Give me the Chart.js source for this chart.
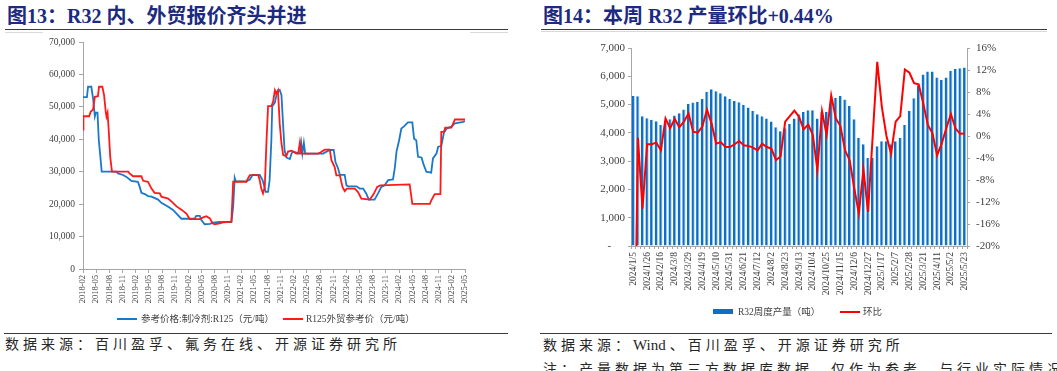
<!DOCTYPE html>
<html lang="zh-CN">
<head>
<meta charset="utf-8">
<title>R32 报价与产量</title>
<script src="https://cdn.jsdelivr.net/npm/chart.js@4.4.1/dist/chart.umd.min.js"></script>
<style>
  html, body { margin: 0; padding: 0; background: #fff; }
  body { width: 1057px; height: 371px; position: relative; overflow: hidden;
         font-family: "Liberation Serif", "Noto Sans CJK SC", serif; }
  .title { position: absolute; top: 5px; font-size: 20px; line-height: 22px; font-weight: bold;
           color: #1c2a80; white-space: nowrap; }
  .rule { position: absolute; height: 0; border-top: 1.5px solid #3a3a3a; }
  .faint { position: absolute; height: 0; border-top: 1px solid #d9d9d9; }
  canvas { position: absolute; }
  .leg { position: absolute; font-size: 9.5px; line-height: 12px; color: #404040; white-space: nowrap; }
  .sw { position: absolute; }
  .source { position: absolute; font-size: 14px; line-height: 16px; letter-spacing: 4px;
            color: #262626; white-space: nowrap; }
  .latin { letter-spacing: 0; font-size: 15px; margin-right: 4px; }
</style>
</head>
<body>

<div class="title" style="left:7px">图13：R32 内、外贸报价齐头并进</div>
<div class="rule" style="left:5px; top:29px; width:503px"></div>
<div class="faint" style="left:5px; top:32px; width:38px"></div>
<div class="faint" style="left:470px; top:32px; width:38px"></div>

<div class="title" style="left:543px">图14：本周 R32 产量环比+0.44%</div>
<div class="rule" style="left:541px; top:29px; width:506px"></div>
<div class="faint" style="left:541px; top:31px; width:506px"></div>

<canvas id="priceChart" width="520" height="277" style="left:0; top:32px"></canvas>
<canvas id="outputChart" width="517" height="274" style="left:540px; top:32px"></canvas>

<div class="sw" style="left:117px; top:318px; width:20px; height:2px; background:#1a78c9"></div>
<div class="leg" style="left:141px; top:313px">参考价格:制冷剂:R125（元/吨）</div>
<div class="sw" style="left:283px; top:318px; width:20px; height:2px; background:#ff1a1a"></div>
<div class="leg" style="left:306px; top:313px">R125外贸参考价（元/吨）</div>

<div class="sw" style="left:713px; top:309px; width:20px; height:5px; background:#0b6fc6"></div>
<div class="leg" style="left:738px; top:306px">R32周度产量（吨）</div>
<div class="sw" style="left:840px; top:311px; width:20px; height:2px; background:#ff0000"></div>
<div class="leg" style="left:863px; top:306px">环比</div>

<div class="rule" style="left:4px; top:333px; width:504px"></div>
<div class="source" style="left:5px; top:337px">数据来源：百川盈孚、氟务在线、开源证券研究所</div>

<div class="rule" style="left:540px; top:333px; width:512px"></div>
<div class="source" style="left:543px; top:337px">数据来源：<span class="latin">Wind</span>、百川盈孚、开源证券研究所</div>
<div class="source" style="left:543px; top:362px">注：产量数据为第三方数据库数据，仅作为参考，与行业实际情况或有偏差</div>

<script>
// 图13: months counted from 2018-02
const priceTickLabels = ['2018-02', '2018-05', '2018-08', '2018-11', '2019-02', '2019-05', '2019-08', '2019-11',
  '2020-02', '2020-05', '2020-08', '2020-11', '2021-02', '2021-05', '2021-08', '2021-11',
  '2022-02', '2022-05', '2022-08', '2022-11', '2023-02', '2023-05', '2023-08', '2023-11',
  '2024-02', '2024-05', '2024-08', '2024-11', '2025-02', '2025-05'];

const domesticMonths = [
  0, 0.9, 1.15, 1.9, 2.3, 2.7, 2.9, 3.3, 3.6, 3.96,
  4.26, 7.6, 8.0, 9.1, 9.9, 11, 12.5, 12.9, 13.3, 14.1,
  14.8, 15.6, 17.1, 17.85, 19.4, 20.5, 21.3, 22.4, 25.4, 25.8,
  26.6, 26.96, 27.7, 28.9, 29.6, 31.1, 33.8, 34.2, 34.55, 34.8,
  37.2, 38.0, 38.6, 40.25, 40.9, 41.6, 42.15, 42.5, 42.9, 43.1,
  43.7, 44.2, 44.8, 45.2, 45.6, 45.9, 46.3, 47.1, 47.5, 47.8,
  49.4, 49.7, 49.96, 50.3, 50.6, 54.7, 55.05, 56.2, 57.1, 57.5,
  58.1, 58.5, 59.6, 60.0, 60.4, 62.3, 63.0, 63.8, 64.5, 65.1,
  66.4, 67.2, 67.95, 68.7, 69.5, 70.6, 71.0, 71.4, 72.0, 72.5,
  73.05, 74.0, 75.0, 75.4, 75.9, 76.3, 77.1, 77.5, 78.2, 79.3,
  79.7, 80.5, 80.9, 81.6, 82.2, 82.8, 83.9, 84.7, 86.6, 87
];
const domesticPrices = [
  53000, 53000, 56200, 56200, 52500, 47100, 48200, 48200, 39700, 34600,
  30000, 30000, 29500, 29000, 28400, 27200, 26900, 25400, 23500, 23100,
  22500, 22300, 21400, 20400, 19200, 18200, 17100, 15500, 15500, 16400,
  16400, 15100, 13800, 13900, 14300, 14500, 14500, 19200, 28100, 27000,
  27000, 27600, 29000, 29000, 27400, 23800, 23800, 27400, 39700, 50200,
  51300, 54600, 55200, 53600, 43900, 36700, 34400, 33900, 35600, 36200,
  35600, 38800, 35600, 38900, 35600, 35600, 35900, 36700, 36700, 33000,
  31000, 29000, 29000, 25800, 25500, 25500, 24800, 24800, 23300, 21400,
  21400, 23300, 25300, 25800, 27400, 27600, 31000, 36200, 39700, 43300,
  43900, 45200, 45200, 40200, 39700, 34600, 34400, 32500, 30000, 29700,
  34100, 35600, 37700, 37900, 42000, 43300, 43900, 44900, 45400, 45600
];

const exportMonths = [
  0, 0.1, 1.4, 1.75, 2.3, 2.7, 3.4, 3.65, 4.4, 4.8,
  5.2, 5.35, 5.6, 5.9, 6.2, 6.6, 10.3, 10.6, 11.4, 13.3,
  13.7, 14.8, 15.6, 16.3, 17.5, 17.85, 19.4, 20.5, 21.3, 22.4,
  23.55, 24.3, 26.6, 27.35, 28.1, 28.9, 29.5, 30.0, 31.1, 31.9,
  33.8, 34.2, 37.2, 37.6, 38.0, 39.9, 40.25, 40.6, 41.0, 41.4,
  41.8, 42.15, 42.9, 43.3, 43.7, 44.0, 44.4, 44.8, 45.2, 45.6,
  46.3, 46.7, 47.5, 48.6, 49.0, 49.4, 49.7, 53.5, 53.9, 55.05,
  56.2, 56.6, 57.3, 57.7, 58.5, 59.1, 59.6, 60.1, 61.9, 62.6,
  63.4, 65.3, 66.2, 67.0, 67.7, 74.4, 75.0, 79.0, 79.3, 80.1,
  81.4, 81.6, 82.2, 82.5, 83.9, 84.7, 87
];
const exportPrices = [
  43000, 47100, 47100, 48500, 49200, 53100, 53300, 56200, 56200, 53600,
  48200, 47000, 48200, 41800, 34600, 30000, 30000, 29500, 28600, 28600,
  27200, 26900, 24800, 23500, 23300, 22300, 21700, 20400, 19300, 18300,
  17100, 15400, 15400, 15900, 16300, 15600, 14100, 13800, 14100, 14400,
  14600, 26900, 26900, 28000, 28950, 28950, 27400, 24800, 23300, 25300,
  39700, 50200, 50200, 51600, 55100, 54100, 55100, 44900, 38700, 35100,
  34800, 36200, 36500, 35600, 35600, 39100, 35600, 35600, 35800, 36800,
  36800, 33500, 31500, 28900, 28900, 25300, 24000, 24800, 24800, 23800,
  21700, 21400, 23100, 25300, 25800, 26100, 20100, 20100, 21100, 23100,
  23100, 42300, 42300, 43600, 43600, 46100, 46100
];

// 图14: weekly
const weekLabels = [
  '2024/1/5', '2024/1/12', '2024/1/19', '2024/1/26', '2024/2/2', '2024/2/9', '2024/2/16', '2024/2/23',
  '2024/3/1', '2024/3/8', '2024/3/15', '2024/3/22', '2024/3/29', '2024/4/5', '2024/4/12', '2024/4/19',
  '2024/4/26', '2024/5/3', '2024/5/10', '2024/5/17', '2024/5/24', '2024/5/31', '2024/6/7', '2024/6/14',
  '2024/6/21', '2024/6/28', '2024/7/5', '2024/7/12', '2024/7/19', '2024/7/26', '2024/8/2', '2024/8/9',
  '2024/8/16', '2024/8/23', '2024/8/30', '2024/9/6', '2024/9/13', '2024/9/20', '2024/9/27', '2024/10/4',
  '2024/10/11', '2024/10/18', '2024/10/25', '2024/11/1', '2024/11/8', '2024/11/15', '2024/11/22', '2024/11/29',
  '2024/12/6', '2024/12/13', '2024/12/20', '2024/12/27', '2025/1/3', '2025/1/10', '2025/1/17', '2025/1/24',
  '2025/1/31', '2025/2/7', '2025/2/14', '2025/2/21', '2025/2/28', '2025/3/7', '2025/3/14', '2025/3/21',
  '2025/3/28', '2025/4/4', '2025/4/11', '2025/4/18', '2025/4/25', '2025/5/2', '2025/5/9', '2025/5/16',
  '2025/5/23'
];
const r32Output = [
  5300, 5290, 4590, 4520, 4460, 4410, 4280, 4420, 4480, 4610,
  4690, 4830, 5030, 5070, 5100, 5200, 5450, 5540, 5470, 5400,
  5290, 5200, 5130, 5080, 4990, 4900, 4780, 4660, 4590, 4510,
  4400, 4200, 4060, 4160, 4310, 4510, 4660, 4740, 4800, 4800,
  4510, 4740, 4750, 5100, 5240, 5300, 5180, 4950, 4480, 3830,
  3600, 3110, 3110, 3530, 3700, 3700, 3600, 3700, 3830, 4280,
  4780, 5220, 5680, 6060, 6170, 6170, 5960, 5870, 5960, 6190,
  6260, 6280, 6310
];
const r32MoM = [
  -60, -0.3, -13.2, -1.5, -1.5, -1.2, -2.6, 3.2, 1.4, 3.1,
  1.6, 2.6, 4.1, 0.8, 0.6, 1.7, 4.8, 2.3, -1.4, -1.1,
  -2.0, -2.0, -1.5, -0.9, -1.7, -1.8, -2.1, -2.6, -1.4, -2.0,
  -2.3, -4.4, -3.7, 2.6, 3.6, 4.6, 3.5, 1.2, 2.1, 0.2,
  -6.2, 4.5, 0.2, 7.4, 3.2, 1.8, -2.6, -4.4, -9.5, -14.1,
  -6.1, -13.8, -0.2, 13.5, 5.3, 0.0, -3.2, 2.6, 3.6, 12.1,
  11.5, 9.6, 9.4, 5.9, 2.0, 0.5, -3.5, -1.4, 1.4, 4.0,
  1.4, 0.4, 0.44
];

const serif = '"Liberation Serif", "Noto Sans CJK SC", serif';
const axisGray = '#a6a6a6';
const tickColor = '#404040';

new Chart(document.getElementById('priceChart'), {
  type: 'line',
  data: {
    datasets: [{
      label: '参考价格:制冷剂:R125（元/吨）',
      data: domesticMonths.map((m, i) => ({ x: m, y: domesticPrices[i] })),
      borderColor: '#1a78c9',
      borderWidth: 1.8,
      pointRadius: 0,
      order: 1
    }, {
      label: 'R125外贸参考价（元/吨）',
      data: exportMonths.map((m, i) => ({ x: m, y: exportPrices[i] })),
      borderColor: '#ff1a1a',
      borderWidth: 1.8,
      pointRadius: 0,
      order: 0
    }]
  },
  options: {
    responsive: false,
    animation: false,
    events: [],
    layout: { padding: { top: 10, right: 55, left: 0, bottom: 0 } },
    plugins: { legend: { display: false }, tooltip: { enabled: false } },
    scales: {
      x: {
        type: 'linear',
        min: 0,
        max: 87,
        afterBuildTicks: (axis) => {
          axis.ticks = priceTickLabels.map((_, i) => ({ value: i * 3 }));
        },
        afterFit: (axis) => { axis.height = 40; },
        grid: { drawOnChartArea: false, tickLength: 4, color: axisGray },
        border: { color: axisGray },
        ticks: {
          autoSkip: false,
          minRotation: 90,
          maxRotation: 90,
          padding: 2,
          color: tickColor,
          font: { family: serif, size: 8.5 },
          callback: (v, i) => priceTickLabels[i]
        }
      },
      y: {
        min: 0,
        max: 70000,
        afterFit: (axis) => { axis.width = 83; },
        grid: { drawOnChartArea: false, tickLength: 4, color: axisGray },
        border: { color: axisGray },
        ticks: {
          stepSize: 10000,
          padding: 4,
          color: tickColor,
          font: { family: serif, size: 9.5 },
          callback: (v) => v.toLocaleString('en-US')
        }
      }
    }
  }
});

new Chart(document.getElementById('outputChart'), {
  data: {
    labels: weekLabels,
    datasets: [{
      type: 'line',
      label: '环比',
      data: r32MoM,
      yAxisID: 'y1',
      borderColor: '#ff0000',
      borderWidth: 2,
      pointRadius: 0,
      order: 0
    }, {
      type: 'bar',
      label: 'R32周度产量（吨）',
      data: r32Output,
      yAxisID: 'y',
      backgroundColor: '#0b6fc6',
      borderColor: '#a9cdef',
      borderWidth: { top: 0, right: 1, bottom: 0, left: 0 },
      barPercentage: 0.72,
      categoryPercentage: 1,
      order: 1
    }]
  },
  options: {
    responsive: false,
    animation: false,
    events: [],
    layout: { padding: { top: 16, right: 0, left: 0, bottom: 0 } },
    plugins: { legend: { display: false }, tooltip: { enabled: false } },
    scales: {
      x: {
        afterFit: (axis) => { axis.height = 60; },
        grid: { drawOnChartArea: false, tickLength: 3, color: axisGray },
        border: { color: axisGray },
        ticks: {
          autoSkip: false,
          minRotation: 90,
          maxRotation: 90,
          padding: 3,
          color: tickColor,
          font: { family: serif, size: 9.5 },
          callback: (v, i) => (i % 3 === 0 ? weekLabels[i] : '')
        }
      },
      y: {
        position: 'left',
        min: 0,
        max: 7000,
        afterFit: (axis) => { axis.width = 91; },
        grid: { drawOnChartArea: false, tickLength: 3, color: axisGray },
        border: { color: axisGray },
        ticks: {
          stepSize: 1000,
          padding: 3,
          color: tickColor,
          font: { family: serif, size: 11 },
          callback: (v) => (v === 0 ? '-     ' : v.toLocaleString('en-US'))
        }
      },
      y1: {
        position: 'right',
        min: -20,
        max: 16,
        afterFit: (axis) => { axis.width = 90; },
        grid: { drawOnChartArea: false, tickLength: 3, color: axisGray },
        border: { color: axisGray },
        ticks: {
          stepSize: 4,
          padding: 6,
          color: tickColor,
          font: { family: serif, size: 11 },
          callback: (v) => v + '%'
        }
      }
    }
  }
});
</script>
</body>
</html>
